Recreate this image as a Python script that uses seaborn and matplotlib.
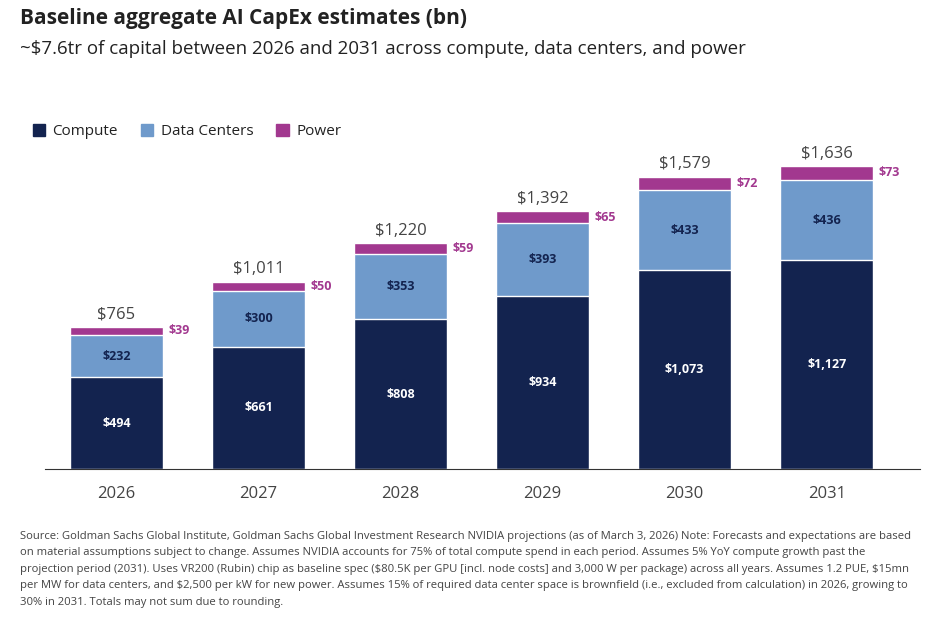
import pandas as pd
import matplotlib.pyplot as plt
import seaborn as sns
from matplotlib.patches import Patch

years = ['2026', '2027', '2028', '2029', '2030', '2031']
compute = [494, 661, 808, 934, 1073, 1127]
data_centers = [232, 300, 353, 393, 433, 436]
power = [39, 50, 59, 65, 72, 73]
totals = [765, 1011, 1220, 1392, 1579, 1636]

c_compute = '#13234f'
c_dc = '#6f9acb'
c_power = '#a2388f'

df = pd.DataFrame({'year': years, 'compute': compute, 'dc': data_centers, 'power': power})
df['cd'] = df['compute'] + df['dc']
df['all'] = df['cd'] + df['power']

sns.set_style('white')
plt.rcParams['font.family'] = ['Open Sans', 'DejaVu Sans']
plt.rcParams['text.parse_math'] = False

fig = plt.figure(figsize=(9.45, 6.26), dpi=100)
ax = fig.add_axes([0.048, 0.251, 0.926, 0.589])

w = 0.655
sns.barplot(data=df, x='year', y='all', color=c_power, width=w, saturation=1, ax=ax,
            edgecolor='white', linewidth=1)
sns.barplot(data=df, x='year', y='cd', color=c_dc, width=w, saturation=1, ax=ax,
            edgecolor='white', linewidth=1)
sns.barplot(data=df, x='year', y='compute', color=c_compute, width=w, saturation=1, ax=ax,
            edgecolor='white', linewidth=1)

for i in range(len(years)):
    ax.text(i, compute[i] / 2, f'${compute[i]:,}', ha='center', va='center',
            color='white', fontsize=9, fontweight='bold')
    ax.text(i, compute[i] + data_centers[i] / 2, f'${data_centers[i]:,}', ha='center',
            va='center', color='#13234f', fontsize=9, fontweight='bold')
    ax.text(i + w / 2 + 0.04, df['all'][i] - power[i] / 2, f'${power[i]}', ha='left',
            va='center', color=c_power, fontsize=9, fontweight='bold')
    ax.text(i, df['all'][i] + 25, f'${totals[i]:,}', ha='center', va='bottom',
            color='#444444', fontsize=12)

ax.set_xlim(-0.5, 5.66)
ax.set_ylim(0, 1993)
ax.set_yticks([])
ax.set_xlabel('')
ax.set_ylabel('')
for s in ['top', 'right', 'left']:
    ax.spines[s].set_visible(False)
ax.spines['bottom'].set_color('#333333')
ax.tick_params(axis='x', length=0, pad=12, labelsize=12, labelcolor='#444444')

handles = [Patch(color=c_compute, label='Compute'), Patch(color=c_dc, label='Data Centers'),
           Patch(color=c_power, label='Power')]
fig.legend(handles=handles, loc='center left', bbox_to_anchor=(0.02, 0.79), ncol=3,
           frameon=False, fontsize=11, handlelength=0.8, handleheight=0.8,
           handletextpad=0.5, columnspacing=1.5, labelcolor='#222222')

fig.text(0.021, 0.97, 'Baseline aggregate AI CapEx estimates (bn)', fontsize=15,
         fontweight='bold', color='#222222', va='center')
fig.text(0.021, 0.922, '~$7.6tr of capital between 2026 and 2031 across compute, data centers, and power',
         fontsize=13.5, color='#222222', va='center')

note = ('Source: Goldman Sachs Global Institute, Goldman Sachs Global Investment Research NVIDIA projections (as of March 3, 2026) Note: Forecasts and expectations are based\n'
        'on material assumptions subject to change. Assumes NVIDIA accounts for 75% of total compute spend in each period. Assumes 5% YoY compute growth past the\n'
        'projection period (2031). Uses VR200 (Rubin) chip as baseline spec ($80.5K per GPU [incl. node costs] and 3,000 W per package) across all years. Assumes 1.2 PUE, $15mn\n'
        'per MW for data centers, and $2,500 per kW for new power. Assumes 15% of required data center space is brownfield (i.e., excluded from calculation) in 2026, growing to\n'
        '30% in 2031. Totals may not sum due to rounding.')
fig.text(0.021, 0.152, note, fontsize=8.1, color='#444444', va='top', linespacing=1.68)

fig.savefig('out.png', dpi=100)
